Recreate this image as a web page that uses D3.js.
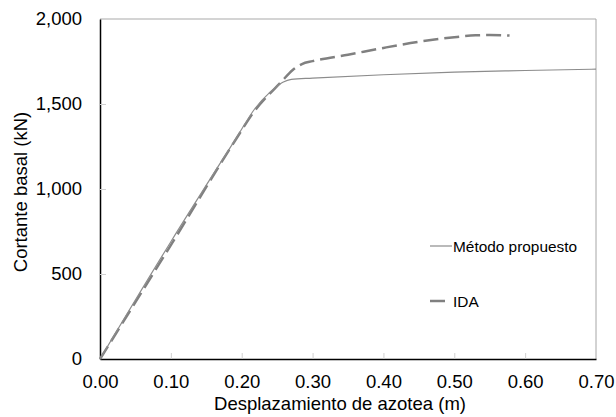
<!DOCTYPE html>
<html>
<head>
<meta charset="utf-8">
<script src="https://cdn.jsdelivr.net/npm/d3@7"></script>
<style>
  html, body { margin: 0; padding: 0; background: #fff; }
  svg { display: block; font-family: "Liberation Sans", Arial, sans-serif; }
</style>
</head>
<body>
<svg id="chart" width="616" height="417"></svg>
<script>
// Data
const xTicks = [0, 0.1, 0.2, 0.3, 0.4, 0.5, 0.6, 0.7];
const yTicks = [0, 500, 1000, 1500, 2000];
const seriesNames = ["Método propuesto", "IDA"];
const metodoX = [0, 0.10, 0.192, 0.219, 0.240, 0.258, 0.270, 0.300, 0.400, 0.500, 0.600, 0.700];
const metodoY = [0, 690, 1298, 1475, 1570, 1628, 1645, 1652, 1672, 1688, 1697, 1705];
const idaX = [0, 0.10, 0.193, 0.216, 0.256, 0.272, 0.285, 0.300, 0.350, 0.400, 0.450, 0.500, 0.530, 0.550, 0.578];
const idaY = [0, 670, 1300, 1447, 1631, 1700, 1735, 1752, 1790, 1830, 1866, 1893, 1904, 1906, 1903];
const xTitle = "Desplazamiento de azotea (m)";
const yTitle = "Cortante basal (kN)";

(function () {
const svg = d3.select("#chart");
const mL = 100, mR = 596, mT = 19, mB = 359;
const x = d3.scaleLinear().domain([0, 0.7]).range([mL, mR]);
const y = d3.scaleLinear().domain([0, 2000]).range([mB, mT]);
const FS = 18.5;

// top & right frame
svg.append("line").attr("x1", mL).attr("x2", mR).attr("y1", mT).attr("y2", mT)
  .attr("stroke", "#d4d4d4").attr("stroke-width", 2);
svg.append("line").attr("x1", mR).attr("x2", mR).attr("y1", mT).attr("y2", mB)
  .attr("stroke", "#a6a6a6").attr("stroke-width", 1);

const fmtX = d3.format(".2f");
const fmtY = d3.format(",");
const xAxis = svg.append("g").attr("transform", `translate(0,${mB})`)
  .call(d3.axisBottom(x).tickValues(xTicks).tickFormat(fmtX).tickSize(0).tickPadding(16));
xAxis.select(".domain").attr("stroke", "#000").attr("stroke-width", 1.5);
xAxis.selectAll("text").attr("font-size", FS).attr("fill", "#000")
  .attr("font-family", "Liberation Sans, Arial, sans-serif");
xAxis.selectAll(".tick").filter(d => d > 0 && d < 0.7).append("line")
  .attr("y1", 0).attr("y2", -6).attr("stroke", "#d0d0d0");

const yAxis = svg.append("g").attr("transform", `translate(${mL},0)`)
  .call(d3.axisLeft(y).tickValues(yTicks).tickFormat(fmtY).tickSize(0).tickPadding(18));
yAxis.select(".domain").attr("stroke", "#000").attr("stroke-width", 1.5);
yAxis.selectAll("text").attr("font-size", FS).attr("fill", "#000")
  .attr("font-family", "Liberation Sans, Arial, sans-serif");
yAxis.selectAll(".tick").filter(d => d > 0 && d < 2000).append("line")
  .attr("x1", 0).attr("x2", 6).attr("stroke", "#d0d0d0");

// axis titles
svg.append("text").attr("x", 340).attr("y", 410)
  .attr("text-anchor", "middle").attr("font-size", FS).text(xTitle);
svg.append("text").attr("transform", `translate(27,${(mT + mB) / 2 + 3}) rotate(-90)`)
  .attr("text-anchor", "middle").attr("font-size", FS).text(yTitle);

// lines
const line = d3.line().x(d => x(d[0])).y(d => y(d[1])).curve(d3.curveMonotoneX);
const metodo = metodoX.map((v, i) => [v, metodoY[i]]);
const ida = idaX.map((v, i) => [v, idaY[i]]);

svg.append("path").datum(ida).attr("d", line).attr("fill", "none")
  .attr("stroke", "#808080").attr("stroke-width", 2.5).attr("stroke-dasharray", "15,6");
svg.append("path").datum(metodo).attr("d", line).attr("fill", "none")
  .attr("stroke", "#8c8c8c").attr("stroke-width", 1.2);

// legend
const lg = svg.append("g");
lg.append("line").attr("x1", 430).attr("x2", 452).attr("y1", 246).attr("y2", 246)
  .attr("stroke", "#8c8c8c").attr("stroke-width", 1.2);
lg.append("text").attr("x", 453).attr("y", 252).attr("font-size", 15.4).text(seriesNames[0]);
lg.append("line").attr("x1", 430).attr("x2", 445).attr("y1", 301).attr("y2", 301)
  .attr("stroke", "#808080").attr("stroke-width", 2.5);
lg.append("text").attr("x", 453).attr("y", 306.5).attr("font-size", 15.4).text(seriesNames[1]);
})();
</script>
</body>
</html>
